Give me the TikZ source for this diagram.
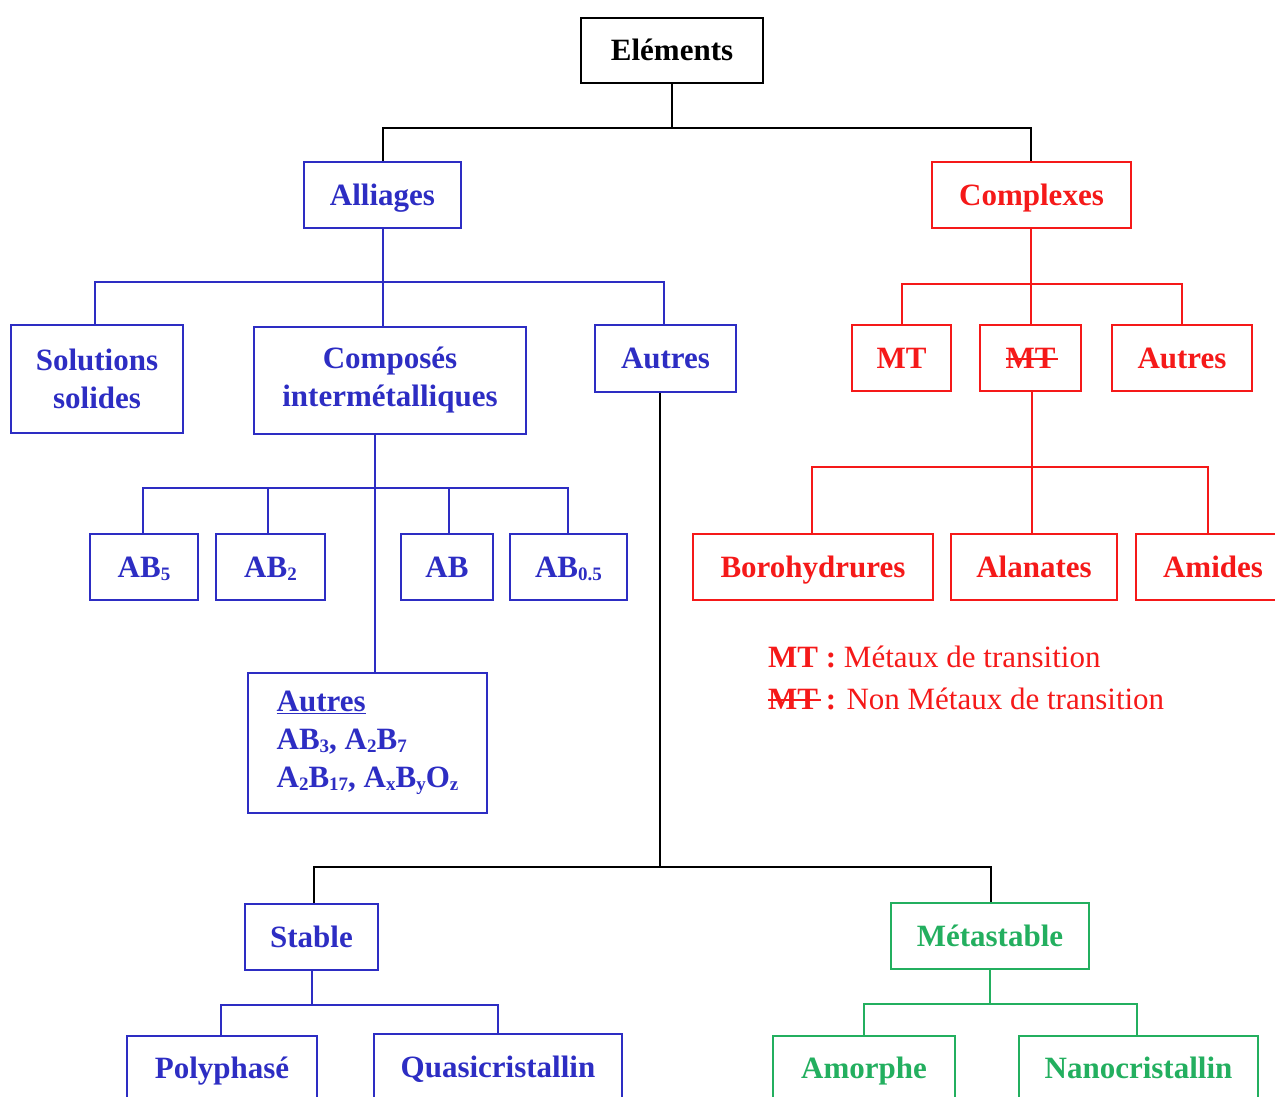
\documentclass[tikz,border=0pt]{standalone}
\usepackage{fontspec}
\setmainfont{Liberation Serif}
\definecolor{cblue}{RGB}{45,45,195}
\definecolor{cred}{RGB}{245,25,25}
\definecolor{cgreen}{RGB}{35,175,95}
% lowered, smaller index for chemical formulas
\newcommand{\lsub}[1]{\raisebox{-3pt}{\fontsize{19}{19}\selectfont #1}}
% struck-through text, the bar running slightly past the last letter
\newsavebox{\strkbox}
\newcommand{\strk}[1]{\sbox{\strkbox}{#1}\rlap{\usebox{\strkbox}}\rule[8pt]{\dimexpr\wd\strkbox+3pt\relax}{1.8pt}\hspace{-3pt}}
\begin{document}
\begin{tikzpicture}[x=1pt,y=-1pt,
  box/.style={draw, line width=1.8pt, inner sep=0pt, align=center,
              font=\bfseries\fontsize{31}{38}\selectfont},
  one/.style={text height=20pt, text depth=0pt},
  link/.style={line width=1.8pt}]
\useasboundingbox (0,0) rectangle (1275,1097);
\clip (0,0) rectangle (1275,1097);

% ---------- boxes ----------
\node[box,one,black,minimum width=182pt,minimum height=65pt] (el) at (672,50.5) {Eléments};

\node[box,one,cblue,minimum width=157pt,minimum height=66pt] (all) at (382.5,195) {Alliages};
\node[box,one,cred,minimum width=199pt,minimum height=66pt] (cpx) at (1031.5,195) {Complexes};

\node[box,cblue,minimum width=172pt,minimum height=108pt] (sol) at (97,379) {Solutions\\solides};
\node[box,cblue,minimum width=272pt,minimum height=107pt] (comp) at (390,380.5) {Composés\\intermétalliques};
\node[box,one,cblue,minimum width=141pt,minimum height=67pt] (aut1) at (665.5,358.5) {Autres};

\node[box,one,cred,minimum width=99pt,minimum height=66pt] (mt) at (901.5,358) {MT};
\node[box,one,cred,minimum width=101pt,minimum height=66pt] (nmt) at (1030.5,358) {\strk{MT}};
\node[box,one,cred,minimum width=140pt,minimum height=66pt] (aut2) at (1182,358) {Autres};

\node[box,one,cblue,minimum width=108pt,minimum height=66pt] (ab5) at (144,567) {AB\lsub{5}};
\node[box,one,cblue,minimum width=109pt,minimum height=66pt] (ab2) at (270.5,567) {AB\lsub{2}};
\node[box,one,cblue,minimum width=92pt,minimum height=66pt] (ab) at (447,567) {AB};
\node[box,one,cblue,minimum width=117pt,minimum height=66pt] (ab05) at (568.5,567) {AB\lsub{0.5}};

\node[box,one,cred,minimum width=240pt,minimum height=66pt] (boro) at (813,567) {Borohydrures};
\node[box,one,cred,minimum width=166pt,minimum height=66pt] (alan) at (1034,567) {Alanates};
\node[box,one,cred,minimum width=154pt,minimum height=66pt] (amid) at (1213,567) {Amides};

\node[box,cblue,align=left,minimum width=239pt,minimum height=140pt] (aut3) at (367.5,743)
  {\underline{Autres}\\AB\lsub{3}, A\lsub{2}B\lsub{7}\\A\lsub{2}B\lsub{17}, A\lsub{x}B\lsub{y}O\lsub{z}};

\node[box,one,cblue,minimum width=133pt,minimum height=66pt] (stab) at (311.5,937) {Stable};
\node[box,one,cgreen,minimum width=198pt,minimum height=66pt] (meta) at (990,936) {Métastable};

\node[box,one,cblue,minimum width=190pt,minimum height=64pt] (poly) at (222,1068) {Polyphasé};
\node[box,one,cblue,minimum width=248pt,minimum height=66pt] (quasi) at (498,1067) {Quasicristallin};
\node[box,one,cgreen,minimum width=182pt,minimum height=64pt] (amor) at (864,1068) {Amorphe};
\node[box,one,cgreen,minimum width=239pt,minimum height=64pt] (nano) at (1138.5,1068) {Nanocristallin};

% ---------- legend ----------
\node[cred,anchor=base west,inner sep=0pt,font=\fontsize{31}{38}\selectfont] (lg1) at (768,667)
  {\textbf{MT :} Métaux de transition};
\node[cred,anchor=base west,inner sep=0pt,font=\fontsize{31}{38}\selectfont] (lg2) at (768,709)
  {\textbf{\strk{MT} :} Non Métaux de transition};

% ---------- connectors (kept on whole-pixel columns) ----------
% Eléments
\draw[link,black] (el.south) -- ++(0,44) coordinate (b0);
\draw[link,black] (b0) -| ([xshift=0.5pt]all.north);
\draw[link,black] (b0) -| ([xshift=-0.5pt]cpx.north);
% Alliages
\draw[link,cblue] ([xshift=0.5pt]all.south) -- ++(0,53) coordinate (b1);
\draw[link,cblue] (b1) -| ([xshift=-2pt]sol.north);
\draw[link,cblue] (b1) -- ([xshift=-7pt]comp.north);
\draw[link,cblue] (b1) -| ([xshift=-1.5pt]aut1.north);
% Complexes
\draw[link,cred] ([xshift=-0.5pt]cpx.south) -- ++(0,55) coordinate (b2);
\draw[link,cred] (b2) -| ([xshift=0.5pt]mt.north);
\draw[link,cred] (b2) -- ([xshift=0.5pt]nmt.north);
\draw[link,cred] (b2) -| (aut2.north);
% Composés intermétalliques
\draw[link,cblue] ([xshift=-15pt]comp.south) -- ++(0,53) coordinate (b3);
\draw[link,cblue] (b3) -| ([xshift=-1pt]ab5.north);
\draw[link,cblue] (b3) -| ([xshift=-2.5pt]ab2.north);
\draw[link,cblue] (b3) -| ([xshift=2pt]ab.north);
\draw[link,cblue] (b3) -| ([xshift=-0.5pt]ab05.north);
\draw[link,cblue] (b3) -- ([xshift=7.5pt]aut3.north);
% non-MT
\draw[link,cred] ([xshift=1.5pt]nmt.south) -- ++(0,75) coordinate (b4);
\draw[link,cred] (b4) -| ([xshift=-1pt]boro.north);
\draw[link,cred] (b4) -| ([xshift=-2pt]alan.north);
\draw[link,cred] (b4) -| ([xshift=-5pt]amid.north);
% Autres (alliages)
\draw[link,black] ([xshift=-5.5pt]aut1.south) -- ++(0,474) coordinate (b5);
\draw[link,black] (b5) -| ([xshift=2.5pt]stab.north);
\draw[link,black] (b5) -| ([xshift=1pt]meta.north);
% Stable
\draw[link,cblue] ([xshift=0.5pt]stab.south) -- ++(0,34) coordinate (b6);
\draw[link,cblue] (b6) -| ([xshift=-1pt]poly.north);
\draw[link,cblue] (b6) -| (quasi.north);
% Métastable
\draw[link,cgreen] (meta.south) -- ++(0,34) coordinate (b7);
\draw[link,cgreen] (b7) -| (amor.north);
\draw[link,cgreen] (b7) -| ([xshift=-1.5pt]nano.north);
\end{tikzpicture}
\end{document}
